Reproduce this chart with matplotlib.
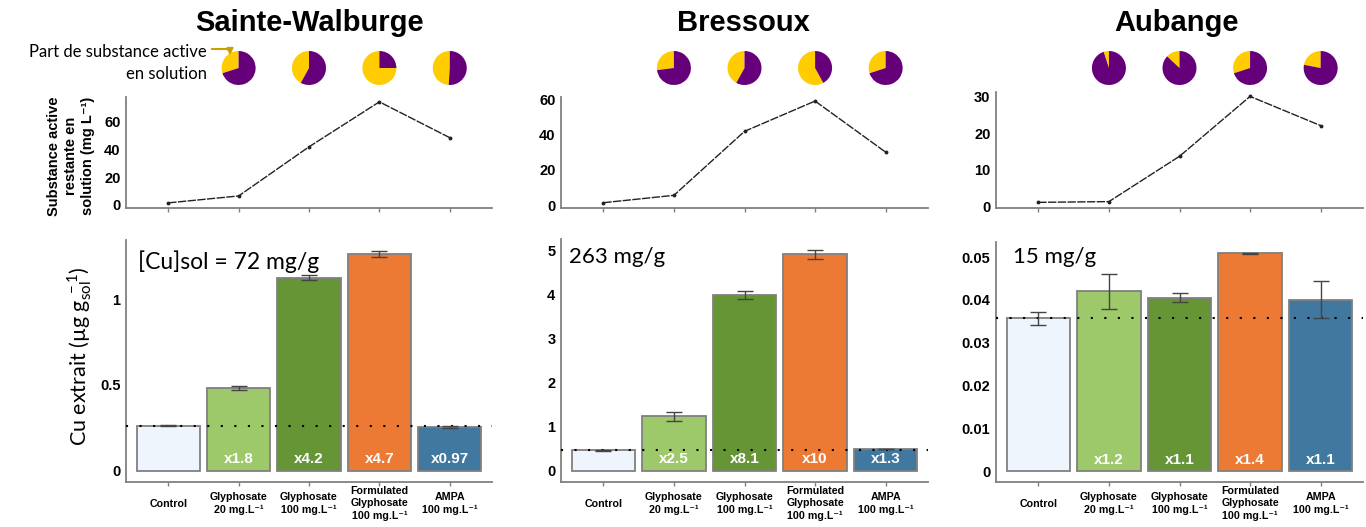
import matplotlib
matplotlib.use("Agg")
import matplotlib.pyplot as plt
from matplotlib.transforms import blended_transform_factory

# ---------------- data ----------------
sites = ["Sainte-Walburge", "Bressoux", "Aubange"]
categories = ["Control", "Glyphosate\n20 mg.L⁻¹", "Glyphosate\n100 mg.L⁻¹",
              "Formulated\nGlyphosate\n100 mg.L⁻¹", "AMPA\n100 mg.L⁻¹"]

# remaining active substance in solution (mg/L)
remaining_sw = [1.5, 6.5, 42.0, 74.5, 48.6]
remaining_br = [1.3, 5.5, 41.8, 59.0, 30.0]
remaining_au = [1.1, 1.3, 13.7, 30.1, 22.1]

# share of active substance in solution (yellow part of pies), treatments only
pie_sw = [0.30, 0.42, 0.75, 0.49]
pie_br = [0.27, 0.42, 0.58, 0.30]
pie_au = [0.05, 0.13, 0.30, 0.22]

# extracted Cu (µg/g soil) and errors
cu_sw = [0.262, 0.483, 1.124, 1.262, 0.253]
err_sw = [0.004, 0.013, 0.015, 0.018, 0.006]
cu_br = [0.46, 1.23, 3.99, 4.91, 0.49]
err_br = [0.01, 0.10, 0.09, 0.10, 0.01]
cu_au = [0.0357, 0.0420, 0.0405, 0.0509, 0.0400]
err_au = [0.0015, 0.0041, 0.0011, 0.0001, 0.0043]

folds_sw = ["", "x1.8", "x4.2", "x4.7", "x0.97"]
folds_br = ["", "x2.5", "x8.1", "x10", "x1.3"]
folds_au = ["", "x1.2", "x1.1", "x1.4", "x1.1"]

soil_cu = ["[Cu]sol = 72 mg/g", "263 mg/g", "15 mg/g"]

line_yticks = [[0, 20, 40, 60], [0, 20, 40, 60], [0, 10, 20, 30]]
bar_yticks = [[0, 0.5, 1], [0, 1, 2, 3, 4, 5], [0, 0.01, 0.02, 0.03, 0.04, 0.05]]
bar_yticklabels = [["0", "0.5", "1"], ["0", "1", "2", "3", "4", "5"],
                   ["0", "0.01", "0.02", "0.03", "0.04", "0.05"]]

# ---------------- styles ----------------
bar_colors = ["#EEF5FD", "#9DC96A", "#669536", "#EC7A35", "#41789F"]
yellow, purple = "#FFCC00", "#66007A"
spine_col = "#808080"
W, H = 1366, 527
sans = ["Liberation Sans", "DejaVu Sans"]
light = ["Lato", "DejaVu Sans"]

plt.rcParams["font.family"] = sans
plt.rcParams["mathtext.fontset"] = "custom"
plt.rcParams["mathtext.rm"] = "Lato"
plt.rcParams["mathtext.it"] = "Lato:italic"

fig = plt.figure(figsize=(W / 100, H / 100), dpi=100)


def pos(l, r, t, b):
    return [l / W, 1 - b / H, (r - l) / W, (b - t) / H]


line_pos = [(126, 492, 97, 208), (561, 928, 97, 208), (996, 1363, 92, 208)]
bar_pos = [(126, 492, 240, 482), (561, 928, 239, 482), (996, 1363, 242, 482)]
line_ylim = [(-2.2, 78), (-1.7, 61.3), (-0.45, 31.3)]
bar_ylim = [(-0.066, 1.344), (-0.26, 5.26), (-0.00247, 0.0535)]
title_x = [309, 743, 1177]
text_pos = [(138, 262), (569, 257), (1013, 257)]
text_size = [16.5, 16, 16]

remaining = [remaining_sw, remaining_br, remaining_au]
pies = [pie_sw, pie_br, pie_au]
cus = [cu_sw, cu_br, cu_au]
errs = [err_sw, err_br, err_au]
folds = [folds_sw, folds_br, folds_au]

x = list(range(len(categories)))


def style_axes(ax):
    for s in ["top", "right"]:
        ax.spines[s].set_visible(False)
    for s in ["left", "bottom"]:
        ax.spines[s].set_color(spine_col)
        ax.spines[s].set_linewidth(1.3)
    ax.tick_params(axis="y", length=0, pad=4, labelsize=10.5)
    ax.tick_params(axis="x", length=3, color=spine_col, width=1)
    for lab in ax.get_yticklabels():
        lab.set_fontweight("bold")
    ax.set_xlim(-0.6, 4.6)


for k in range(3):
    # ---- line chart ----
    axl = fig.add_axes(pos(*line_pos[k]))
    axl.plot(x, remaining[k], color="#222222", lw=1.0, ls=(0, (6, 1)),
             marker="o", ms=1.8)
    axl.set_ylim(*line_ylim[k])
    axl.set_yticks(line_yticks[k])
    axl.set_yticklabels([str(v) for v in line_yticks[k]], fontweight="bold")
    axl.set_xticks(x)
    axl.set_xticklabels([])
    style_axes(axl)

    # ---- pies above treatments ----
    tr = blended_transform_factory(axl.transData, axl.transAxes)
    hfrac = 34 / (line_pos[k][3] - line_pos[k][2])
    yc = (line_pos[k][3] - 68) / (line_pos[k][3] - line_pos[k][2])
    for i, f in enumerate(pies[k]):
        pa = axl.inset_axes([x[i + 1] - 0.26, yc - hfrac / 2, 0.52, hfrac],
                            transform=tr)
        pa.pie([f, 1 - f], colors=[yellow, purple], startangle=90,
               counterclock=True, wedgeprops=dict(linewidth=0))
        pa.set_xlim(-1.0, 1.0)
        pa.set_ylim(-1.0, 1.0)
        pa.set_aspect("equal")
        pa.axis("off")

    # ---- bar chart ----
    axb = fig.add_axes(pos(*bar_pos[k]))
    axb.bar(x, cus[k], width=0.9, color=bar_colors, edgecolor=spine_col,
            linewidth=1.3, zorder=2)
    axb.errorbar(x, cus[k], yerr=errs[k], fmt="none", ecolor="#444444",
                 elinewidth=1, capsize=6, capthick=1, zorder=4)
    axb.axhline(cus[k][0], color="black", lw=1.5, ls=(0, (1, 5.5)), zorder=3)
    axb.set_ylim(*bar_ylim[k])
    axb.set_yticks(bar_yticks[k])
    axb.set_yticklabels(bar_yticklabels[k], fontweight="bold")
    axb.set_xticks(x)
    axb.set_xticklabels(categories, fontsize=7.7, fontweight="bold",
                        linespacing=1.25)
    style_axes(axb)
    axb.tick_params(axis="x", pad=12.5)
    for lab in axb.get_xticklabels():
        lab.set_va("center")
    for i, t in enumerate(folds[k]):
        if t:
            axb.annotate(t, xy=(x[i], 0), xytext=(0, 8.5),
                         textcoords="offset points", ha="center", va="center",
                         color="white", fontsize=11, fontweight="bold",
                         zorder=5)

    fig.text(text_pos[k][0] / W, 1 - text_pos[k][1] / H, soil_cu[k],
             family=light, fontsize=text_size[k], ha="left", va="center")
    fig.text(title_x[k] / W, 1 - 23 / H, sites[k], fontsize=21,
             fontweight="bold", ha="center", va="center")

# ---- left labels ----
fig.text(71 / W, 1 - 156 / H, "Substance active\nrestante en\nsolution (mg L⁻¹)",
         rotation=90, ha="center", va="center", fontsize=10.5, fontweight="bold",
         linespacing=1.3, multialignment="center")
fig.text(80 / W, 1 - 356 / H, r"Cu extrait (µg g$_{\mathrm{sol}}^{\ -1}$)",
         family=light, rotation=90, ha="center", va="center", fontsize=15.5)
fig.text(207 / W, 1 - 63 / H, "Part de substance active\nen solution",
         family=light, ha="right", va="center", fontsize=12, linespacing=1.45,
         multialignment="right")
arrow = matplotlib.patches.FancyArrowPatch(
    (209 / W, 1 - 49 / H), (230 / W, 1 - 58 / H), transform=fig.transFigure,
    arrowstyle="-|>", mutation_scale=9, color="#C8A000", lw=1.5,
    connectionstyle="angle,angleA=0,angleB=90,rad=4", zorder=10)
fig.add_artist(arrow)

fig.savefig("out.png", dpi=100)
